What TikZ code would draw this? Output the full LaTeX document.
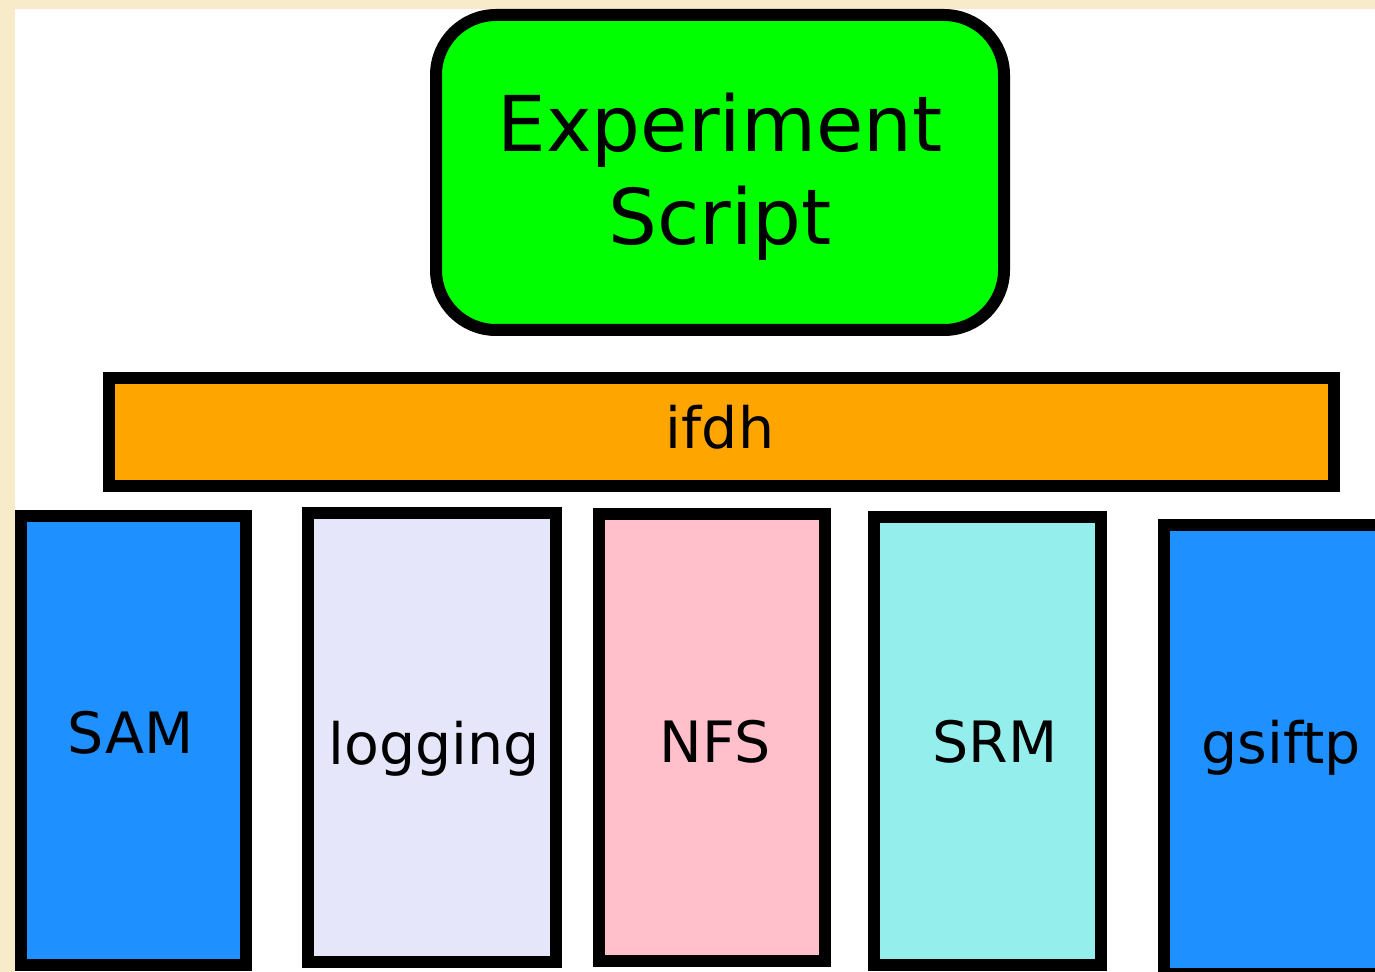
\documentclass[tikz,border=0pt]{standalone}
\usepackage{fontspec}
\setmainfont{DejaVu Sans}
\definecolor{pagecream}{HTML}{F8EBC9}
\definecolor{scriptgreen}{HTML}{00FF00}
\definecolor{ifdhorange}{HTML}{FFA500}
\definecolor{samblue}{HTML}{1E90FF}
\definecolor{loglavender}{HTML}{E6E6FA}
\definecolor{nfspink}{HTML}{FFC0CB}
\definecolor{srmcyan}{HTML}{93EEEC}
\tikzset{
  layerbox/.style={draw=black, line width=6pt, rectangle, inner sep=0pt, outer sep=0pt},
  biglabel/.style={font=\fontsize{38.5}{46}\selectfont, inner sep=0pt, anchor=base},
  boxlabel/.style={font=\fontsize{28.5}{34}\selectfont, inner sep=0pt, anchor=base},
}
\begin{document}
\begin{tikzpicture}[x=0.5pt, y=-0.5pt]
  \useasboundingbox (0,0) rectangle (1375,972);
  \clip (0,0) rectangle (1375,972);
  % page background
  \fill[pagecream] (0,0) rectangle (1375,972);
  \fill[white] (15,9) rectangle (1375,972);

  % experiment script on top
  \node[layerbox, fill=scriptgreen, rounded corners=30pt,
        minimum width=284pt, minimum height=157.5pt] (script) at (720,172.5) {};
  \node[biglabel] (scriptA) at (720,152) {Experiment};
  \node[biglabel] (scriptB) at (720,245) {Script};

  % ifdh layer
  \node[layerbox, fill=ifdhorange, minimum width=612.5pt, minimum height=54pt] (ifdh) at (721.5,432) {};
  \node[boxlabel] (ifdhtxt) at (720,449) {ifdh};

  % underlying services
  \node[layerbox, fill=samblue, minimum width=112.5pt, minimum height=224.5pt] (sam) at (133.5,740.5) {};
  \node[boxlabel] (samtxt) at (130.5,753) {SAM};

  \node[layerbox, fill=loglavender, minimum width=124pt, minimum height=224.5pt] (logging) at (432,737.5) {};
  \node[boxlabel] (loggingtxt) at (434,764) {logging};

  \node[layerbox, fill=nfspink, minimum width=113pt, minimum height=223.5pt] (nfs) at (712,737.5) {};
  \node[boxlabel] (nfstxt) at (715,762) {NFS};

  \node[layerbox, fill=srmcyan, minimum width=113.5pt, minimum height=224pt] (srm) at (987.5,741) {};
  \node[boxlabel] (srmtxt) at (995,762) {SRM};

  \node[layerbox, fill=samblue, minimum width=113pt, minimum height=224.5pt] (gsiftp) at (1277,749.5) {};
  \node[boxlabel] (gsifttxt) at (1281,763) {gsiftp};
\end{tikzpicture}
\end{document}
